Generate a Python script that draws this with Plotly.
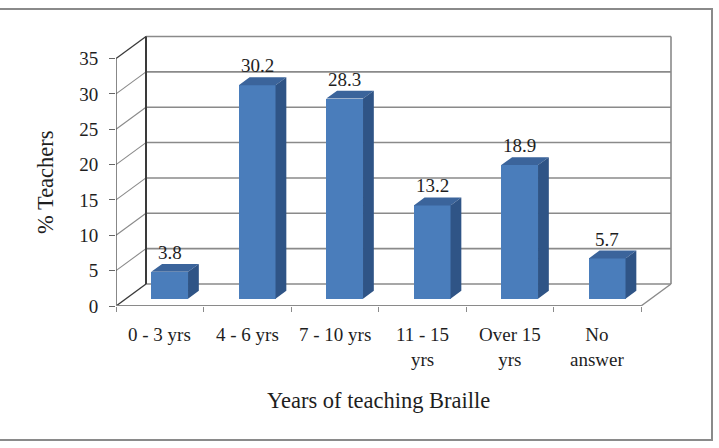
import plotly.graph_objects as go

# ---------------- data ----------------
categories = ["0 - 3 yrs", "4 - 6 yrs", "7 - 10 yrs", "11 - 15<br>yrs", "Over 15<br>yrs", "No<br>answer"]
values = [3.8, 30.2, 28.3, 13.2, 18.9, 5.7]
y_ticks = [0, 5, 10, 15, 20, 25, 30, 35]
x_title = "Years of teaching Braille"
y_title = "% Teachers"

# ---------------- layout constants ----------------
W, H = 719, 448
PL, PR, PT, PB = 116, 700, 20, 306          # plot box in pixels
PX_PER_CAT = 87.5
PX_PER_UNIT = (306 - 58.5) / 35.0
DX = 30 / PX_PER_CAT                         # depth offset (category units)
DY = 22 / PX_PER_UNIT                        # depth offset (value units)
T0, DD = 0.33, 0.36                          # bar front depth, bar depth
BAR_W = 0.42

FONT = "Liberation Serif, Times New Roman, serif"
GRID = "#8a8a8a"
DARK = "#3a3a3a"
FRONT, TOP, SIDE = "#4a7dbb", "#3b649b", "#2f5486"

n = len(categories)
x0 = -0.5
x1 = x0 + (PR - PL) / PX_PER_CAT
y1 = (PB - PT) / PX_PER_UNIT
ymax = y_ticks[-1]
xl_edge, xr_edge = -0.5, n - 0.5


def paper_x(px):
    return (px - PL) / (PR - PL)


def paper_y(py):
    return (PB - py) / (PB - PT)


shapes = []


def line(xa, ya, xb, yb, color, width, layer="below"):
    shapes.append(dict(type="line", xref="x", yref="y", x0=xa, y0=ya, x1=xb, y1=yb,
                       line=dict(color=color, width=width), layer=layer))


# back wall gridlines and left wall diagonals
for v in y_ticks:
    line(xl_edge + DX, v + DY, xr_edge + DX, v + DY, GRID, 1.6)
    col = DARK if v in (0, ymax) else GRID
    line(xl_edge, v, xl_edge + DX, v + DY, col, 1.4 if v in (0, ymax) else 1.1)
# back wall verticals
line(xl_edge + DX, DY, xl_edge + DX, ymax + DY, DARK, 2)
line(xr_edge + DX, DY, xr_edge + DX, ymax + DY, GRID, 1.6)
# front axis line
line(xl_edge, 0, xl_edge, ymax, "#555555", 1.4)
# floor front edge and right diagonal
line(xl_edge, 0, xr_edge, 0, GRID, 2)
line(xr_edge, 0, xr_edge + DX, DY, GRID, 1.4)

# outer border
shapes.append(dict(type="rect", xref="paper", yref="paper",
                   x0=paper_x(-5), x1=paper_x(712), y0=paper_y(440), y1=paper_y(9),
                   line=dict(color="#8a8a8a", width=2), fillcolor="rgba(0,0,0,0)", layer="below"))

fig = go.Figure()

base = T0 * DY
xs_front = [i + T0 * DX for i in range(n)]
fig.add_trace(go.Bar(x=xs_front, y=values, base=base, width=BAR_W,
                     marker=dict(color=FRONT, line=dict(width=0)), hoverinfo="skip"))

top_x, top_y, side_x, side_y = [], [], [], []
for i, v in enumerate(values):
    xl = xs_front[i] - BAR_W / 2
    xr = xs_front[i] + BAR_W / 2
    yt = base + v
    ddx, ddy = DD * DX, DD * DY
    top_x += [xl, xr, xr + ddx, xl + ddx, xl, None]
    top_y += [yt, yt, yt + ddy, yt + ddy, yt, None]
    side_x += [xr, xr + ddx, xr + ddx, xr, xr, None]
    side_y += [base, base + ddy, yt + ddy, yt, base, None]

fig.add_trace(go.Scatter(x=top_x, y=top_y, mode="lines", fill="toself", fillcolor=TOP,
                         line=dict(width=0, color=TOP), hoverinfo="skip"))
fig.add_trace(go.Scatter(x=side_x, y=side_y, mode="lines", fill="toself", fillcolor=SIDE,
                         line=dict(width=0, color=SIDE), hoverinfo="skip"))

annotations = []
for i, v in enumerate(values):
    annotations.append(dict(x=xs_front[i], y=base + v + DD * DY, xref="x", yref="y",
                            text=f"{v:.1f}", showarrow=False, yanchor="bottom", yshift=-1,
                            font=dict(family=FONT, size=19, color="#1e1e1e")))
for i, c in enumerate(categories):
    annotations.append(dict(x=i, y=0, xref="x", yref="y", text=c, showarrow=False,
                            yanchor="top", yshift=-16,
                            font=dict(family=FONT, size=19, color="#1e1e1e")))
annotations.append(dict(x=paper_x(378.5), y=paper_y(400), xref="paper", yref="paper",
                        text=x_title, showarrow=False, xanchor="center", yanchor="middle",
                        font=dict(family=FONT, size=22.5, color="#1e1e1e")))
annotations.append(dict(x=paper_x(45), y=paper_y(182), xref="paper", yref="paper",
                        text=y_title, showarrow=False, textangle=-90,
                        xanchor="center", yanchor="middle",
                        font=dict(family=FONT, size=22.5, color="#1e1e1e")))

bounds = [b - 0.5 for b in range(n + 1)]
fig.update_layout(
    width=W, height=H,
    margin=dict(l=PL, r=W - PR, t=PT, b=H - PB, pad=0),
    paper_bgcolor="white", plot_bgcolor="white",
    showlegend=False, bargap=0,
    shapes=shapes, annotations=annotations,
    xaxis=dict(range=[x0, x1], showgrid=False, zeroline=False, showline=False,
               tickmode="array", tickvals=bounds, ticktext=[""] * len(bounds),
               ticks="outside", ticklen=5, tickcolor=GRID, tickwidth=1.2),
    yaxis=dict(range=[0, y1], showgrid=False, zeroline=False, showline=False,
               tickmode="array", tickvals=y_ticks, ticks="outside", ticklen=6,
               tickcolor="#666666", tickwidth=1.2, ticklabelstandoff=7,
               tickfont=dict(family=FONT, size=19, color="#1e1e1e")),
)

fig.write_html("out.html")
